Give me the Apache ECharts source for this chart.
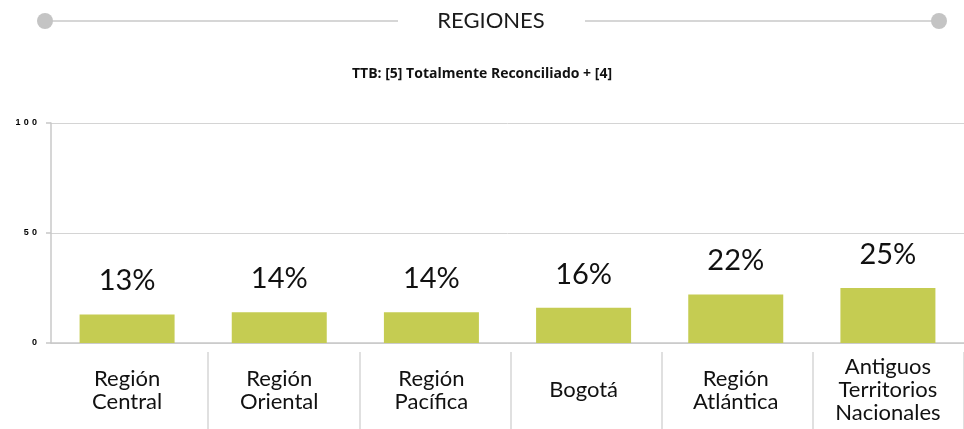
<!DOCTYPE html>
<html>
<head>
<meta charset="utf-8">
<script src="https://cdn.jsdelivr.net/npm/echarts@6/dist/echarts.min.js"></script>
<style>
html, body { margin: 0; padding: 0; background: #fff; }
#chart { width: 964px; height: 429px; }
</style>
</head>
<body>
<div id="chart"></div>
<script>
var categories = ['Región\nCentral', 'Región\nOriental', 'Región\nPacífica', 'Bogotá', 'Región\nAtlántica', 'Antiguos\nTerritorios\nNacionales'];
var values = [13, 14, 14, 16, 22, 25];
var yTicks = [0, 50, 100];

var dom = document.getElementById('chart');
var myChart = echarts.init(dom);
var option = {
    animation: false,
    graphic: [
        { type: 'line', shape: { x1: 45, y1: 21, x2: 398, y2: 21 }, style: { stroke: '#c8c8c8', lineWidth: 1.5 } },
        { type: 'line', shape: { x1: 585, y1: 21, x2: 939, y2: 21 }, style: { stroke: '#c8c8c8', lineWidth: 1.5 } },
        { type: 'circle', shape: { cx: 45, cy: 21, r: 8 }, style: { fill: '#c4c4c4' } },
        { type: 'circle', shape: { cx: 939, cy: 21, r: 8 }, style: { fill: '#c4c4c4' } },
        { type: 'text', x: 491, y: 21, style: { text: 'REGIONES', font: '22px Lato, sans-serif', fill: '#1a1a1a', align: 'center', verticalAlign: 'middle' } },
        { type: 'text', left: 'center', top: 67, style: { text: 'TTB: [5] Totalmente Reconciliado + [4]', font: 'bold 14px "Open Sans", sans-serif', fill: '#111' } }
    ],
    grid: [
        { left: 51, right: 0, top: 123, bottom: 86 },
        { left: 57, right: -6, top: 123, bottom: 86 }
    ],
    xAxis: [{
        type: 'category',
        data: categories,
        gridIndex: 0,
        axisLine: { lineStyle: { color: '#c8c8c8', width: 1.5 } },
        axisTick: { show: false },
        axisLabel: {
            interval: 0,
            margin: 47,
            verticalAlign: 'middle',
            color: '#111',
            fontSize: 22,
            lineHeight: 23,
            fontFamily: 'Lato, sans-serif'
        }
    }, {
        type: 'category',
        data: categories,
        gridIndex: 1,
        position: 'bottom',
        offset: 9,
        axisLine: { show: false, onZero: false },
        axisTick: {
            show: true,
            length: 80,
            interval: function (index) { return index !== 0; },
            lineStyle: { color: '#d6d6d6', width: 1.5 }
        },
        axisLabel: { show: false }
    }],
    yAxis: [{
        type: 'value',
        gridIndex: 0,
        min: 0,
        max: 100,
        interval: 50,
        axisLine: { show: true, lineStyle: { color: '#c8c8c8', width: 1.5 } },
        axisTick: { show: true, length: 5, lineStyle: { color: '#c8c8c8', width: 1.5 } },
        splitLine: { lineStyle: { color: '#d4d4d4' } },
        axisLabel: {
            margin: 14,
            color: '#000',
            fontSize: 9,
            fontWeight: 'bold',
            fontFamily: 'Arial, sans-serif',
            formatter: function (v) {
                return yTicks.indexOf(v) >= 0 ? String(v).split('').join(' \u200a') : '';
            }
        }
    }, {
        type: 'value',
        gridIndex: 1,
        min: 0,
        max: 100,
        show: false,
        splitLine: { show: false }
    }],
    series: [{
        type: 'bar',
        data: values,
        barWidth: 95,
        itemStyle: { color: '#c5cc52' },
        label: {
            show: true,
            position: 'top',
            distance: 19,
            formatter: '{c}%',
            fontSize: 29,
            color: '#111',
            fontFamily: 'Lato, sans-serif'
        }
    }]
};
if (option && typeof option === "object") {
    myChart.setOption(option, true);
    window.addEventListener('resize', function () { myChart.resize(); });
}
</script>
</body>
</html>
